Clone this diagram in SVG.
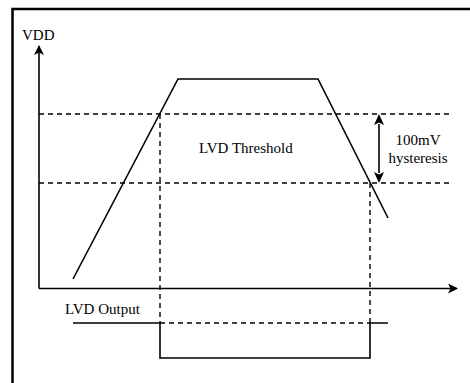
<svg xmlns="http://www.w3.org/2000/svg" width="470" height="383" viewBox="0 0 470 383">
<defs>
<style>
.ln{fill:none;stroke:#000;stroke-width:1.6}
.ds{fill:none;stroke:#000;stroke-width:1.4;stroke-dasharray:5,4}
.tx{font-family:"Liberation Serif","Times New Roman",serif;font-size:15px;fill:#000}
</style>
<marker id="ah" viewBox="0 0 10 10" refX="9" refY="5" markerWidth="10" markerHeight="10" markerUnits="userSpaceOnUse" orient="auto-start-reverse">
<path d="M0,0 L10,5 L0,10 L2.5,5 z" fill="#000"/>
</marker>
</defs>
<rect x="0" y="0" width="470" height="383" fill="#fff"/>
<rect x="12.5" y="9" width="470" height="400" fill="none" stroke="#000" stroke-width="2.5"/>
<g id="connectors">
<line class="ds" x1="39" y1="114" x2="453" y2="114"/>
<line class="ds" x1="39" y1="183" x2="453" y2="183"/>
<line class="ds" x1="160" y1="114" x2="160" y2="323"/>
<line class="ds" x1="370" y1="183" x2="370" y2="323"/>
<line class="ds" x1="160" y1="323" x2="370" y2="323"/>
</g>
<g id="axes">
<line class="ln" x1="39" y1="288.5" x2="39" y2="46" marker-end="url(#ah)"/>
<line class="ln" x1="39" y1="288.5" x2="457" y2="288.5" marker-end="url(#ah)"/>
<text class="tx" x="22" y="40">VDD</text>
</g>
<g id="vdd-curve">
<polyline class="ln" points="73,279 178,79 318,79 388,218"/>
</g>
<g id="threshold">
<text class="tx" x="199" y="153">LVD Threshold</text>
</g>
<g id="hysteresis">
<line class="ln" x1="379" y1="124" x2="379" y2="173" stroke-width="2"/>
<path d="M379,114 L374,125 L379,122.5 L384,125 z M379,183 L374,172 L379,174.5 L384,172 z" fill="#000"/>
<text class="tx" x="418" y="145" text-anchor="middle">100mV</text>
<text class="tx" x="418" y="163" text-anchor="middle">hysteresis</text>
</g>
<g id="lvd-output">
<text class="tx" x="65" y="314">LVD Output</text>
<polyline class="ln" points="73,323 160,323 160,358 370,358 370,323 388,323"/>
</g>
</svg>
